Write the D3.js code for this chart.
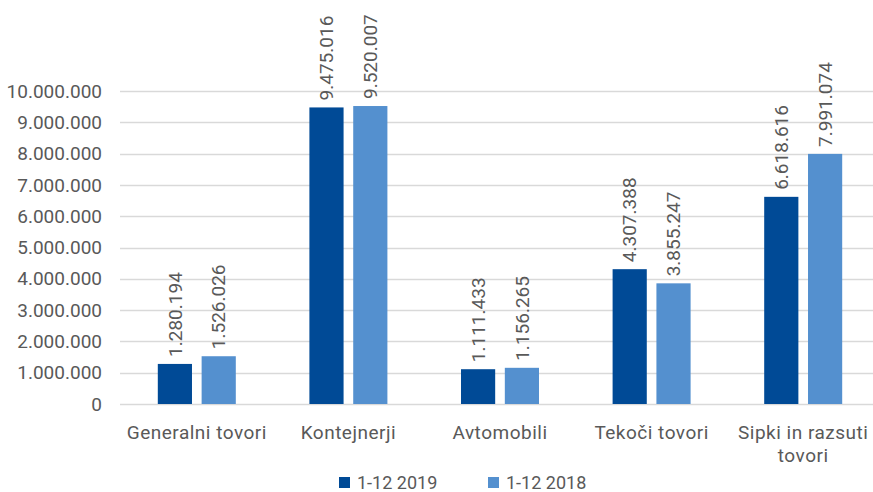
<!DOCTYPE html>
<html><head><meta charset="utf-8">
<script src="https://cdn.jsdelivr.net/npm/d3@7"></script>
<style>body{margin:0;background:#fff}text{font-family:Roboto,"DejaVu Sans",sans-serif;fill:#595959}</style>
</head><body><svg id="c" width="873" height="492"></svg>
<script>
const categories = ["Generalni tovori","Kontejnerji","Avtomobili","Tekoči tovori","Sipki in razsuti tovori"];
const series = ["1-12 2019","1-12 2018"];
const values2019 = [1280194, 9475016, 1111433, 4307388, 6618616];
const values2018 = [1526026, 9520007, 1156265, 3855247, 7991074];
const yTicks = [0,1000000,2000000,3000000,4000000,5000000,6000000,7000000,8000000,9000000,10000000];
const colors = ["#004A96","#5490CF"];

const loc = d3.formatLocale({decimal:",",thousands:".",grouping:[3],currency:["",""]});
const fmt = loc.format(",d");
const svg = d3.select("#c");
const x0 = d3.scaleBand().domain(categories).range([121,879]);
const x1 = d3.scaleBand().domain(series).range([x0.bandwidth()/2-39, x0.bandwidth()/2+39]).paddingInner(0.22);
const y = d3.scaleLinear().domain([0,10000000]).range([404,91]);

// grid
svg.append("g").selectAll("line").data(yTicks).join("line")
  .attr("x1",120).attr("x2",873).attr("y1",d=>Math.round(y(d))+0.5).attr("y2",d=>Math.round(y(d))+0.5)
  .attr("stroke","#d9d9d9").attr("stroke-width",1.3);
// y labels
svg.append("g").selectAll("text").data(yTicks).join("text")
  .attr("x",102).attr("y",d=>y(d)).attr("dy","0.35em").attr("text-anchor","end")
  .style("font-size","19px").text(d=>fmt(d));

const data = categories.map((c,i)=>({c, v:[values2019[i],values2018[i]]}));
const g = svg.append("g").selectAll("g").data(data).join("g").attr("transform",d=>`translate(${x0(d.c)},0)`);
g.selectAll("rect").data(d=>d.v.map((v,j)=>({s:series[j],v,j}))).join("rect")
  .attr("x",d=>x1(d.s)).attr("width",x1.bandwidth()).attr("y",d=>y(d.v)).attr("height",d=>y(0)-y(d.v))
  .attr("fill",d=>colors[d.j]);
g.selectAll("text").data(d=>d.v.map((v,j)=>({s:series[j],v,j}))).join("text")
  .attr("transform",d=>`translate(${x1(d.s)+x1.bandwidth()/2},${y(d.v)-7}) rotate(-90)`)
  .attr("dy","0.35em").attr("text-anchor","start").style("font-size","19px").text(d=>fmt(d.v));

// category labels
const catLines = {"Sipki in razsuti tovori":["Sipki in razsuti","tovori"]};
svg.append("g").selectAll("text").data(categories).join("text")
  .attr("x",d=>x0(d)+x0.bandwidth()/2).attr("y",439).attr("text-anchor","middle")
  .style("font-size","19px").style("letter-spacing","0.5px")
  .each(function(d){
    const lines = catLines[d]||[d];
    d3.select(this).selectAll("tspan").data(lines).join("tspan")
      .attr("x",x0(d)+x0.bandwidth()/2).attr("dy",(l,i)=>i?"23px":0).text(l=>l);
  });

// legend
const lg = svg.append("g").selectAll("g").data(series).join("g")
  .attr("transform",(d,i)=>`translate(${[339,488][i]},477)`);
lg.append("rect").attr("width",11).attr("height",11).attr("fill",(d,i)=>colors[i]);
lg.append("text").attr("x",18).attr("y",6).attr("dy","0.35em").style("font-size","18px").text(d=>d);
</script></body></html>
